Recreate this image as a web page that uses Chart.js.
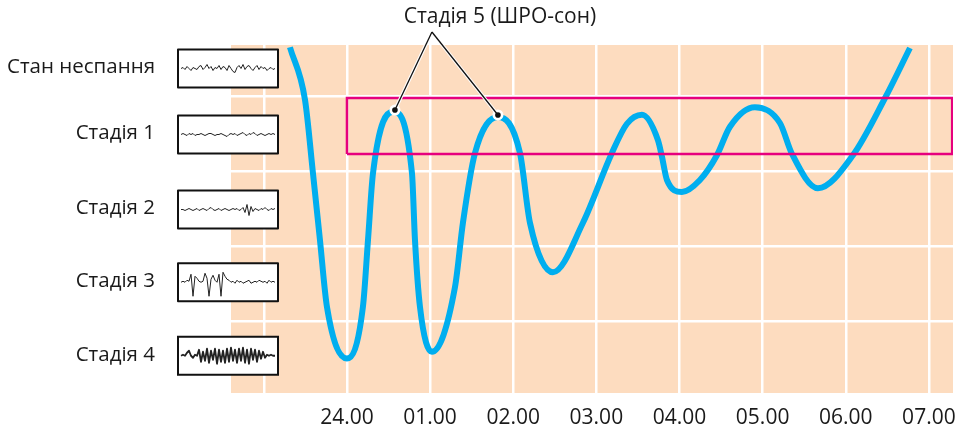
<!DOCTYPE html>
<html>
<head>
<meta charset="utf-8">
<script src="https://cdn.jsdelivr.net/npm/chart.js@4"></script>
<style>
  html, body { margin: 0; padding: 0; background: #fff; }
  #wrap { width: 958px; height: 430px; position: relative; }
</style>
</head>
<body>
<div id="wrap"><canvas id="sleep"></canvas></div>
<script>
// hours after midnight (24.00 = 0) and sleep depth (0 = stage 4 ... 3 = stage 1, ~3.9 = awake)
const hours = [-0.686, -0.505, -0.409, -0.325, -0.241, 0, 0.192, 0.253, 0.313, 0.553, 0.782, 0.818, 0.878, 1.022,
  1.299, 1.395, 1.54, 1.816, 2.081, 2.201, 2.478, 2.839, 3.187, 3.368, 3.548,
  3.741, 3.789, 3.849, 4.029, 4.246, 4.45, 4.607, 4.907, 5.208, 5.352, 5.665, 6.086, 6.471, 6.772];
const depth = [4.15, 3.45, 2.47, 1.58, 0.69, 0.0, 0.69, 1.58, 2.47, 3.29, 2.47, 1.58, 0.69, 0.09,
  0.95, 1.81, 2.74, 3.22, 2.74, 1.81, 1.15, 1.81, 2.74, 3.13, 3.25,
  2.91, 2.69, 2.38, 2.22, 2.38, 2.71, 3.09, 3.35, 3.14, 2.73, 2.27, 2.71, 3.47, 4.14];

// axis ticks
const xTickValues = [-1, 0, 1, 2, 3, 4, 5, 6, 7];
const xTickLabels = ['', '24.00', '01.00', '02.00', '03.00', '04.00', '05.00', '06.00', '07.00'];
const stageValues = [0.05, 1.03, 2.0, 3.0, 3.88];
const stageLabels = ['Стадія 4', 'Стадія 3', 'Стадія 2', 'Стадія 1', 'Стан неспання'];
const bandEdges = [0.5, 1.5, 2.5, 3.5];

// highlighted REM zone and callout
const remX = [0, 7.28];
const remY = [2.727, 3.473];
const remTitle = 'Стадія 5 (ШРО-сон)';
const remDotX = [0.577, 1.816];
const remDotY = [3.313, 3.247];
const calloutX = [1.022, 1.84];
const calloutY = [4.353, 4.553];

// little EEG traces, one per stage (same order as stageLabels)
const eegTraces = [
  [0,1,0,3,5,0,-2,1,0,6,-6,4,-5,7,-7,5,-4,7,-8,6,-6,5,-7,7,-6,8,-5,6,-7,7,-5,8,-7,6,-8,7,-4,6,-6,5,-3,4,-2,1,0,1,0,0],
  [0,1,0,2,1,8,-14,6,4,1,0,1,9,4,-14,3,7,2,0,8,-14,10,6,3,2,0,1,-1,2,0,1,-1,0,1,2,-1,0,1,0,2,1,0,1,-1,2,0,1,0],
  [0,0,-1,0,1,0,-1,0,1,-1,0,1,0,-1,1,2,0,-1,0,1,-1,0,1,0,-1,0,1,0,1,-1,0,2,-3,5,-6,3,-2,1,0,-1,1,0,2,0,-1,1,0,1],
  [0,1,0,-1,1,0,1,-1,0,0,1,0,-1,0,1,1,0,-1,0,0,1,0,-1,-2,0,1,0,1,-1,0,1,2,0,-1,1,0,2,1,-1,0,1,0,-1,0,1,0,1,0],
  [0,1,-1,2,0,-2,1,0,-1,2,3,-1,1,4,0,2,-2,1,0,3,-1,2,1,-2,3,0,-3,-4,1,3,0,4,-1,2,3,0,-2,1,3,-1,2,0,1,-2,0,1,-1,0]
];

const FONT = '"Open Sans", "Noto Sans", sans-serif';

const peachBg = {
  id: 'peachBg',
  beforeDraw(chart) {
    const a = chart.chartArea, ctx = chart.ctx;
    ctx.save();
    ctx.fillStyle = '#fddcbf';
    ctx.fillRect(a.left, a.top, a.right - a.left, a.bottom - a.top);
    ctx.restore();
  }
};

const callout = {
  id: 'callout',
  afterDatasetsDraw(chart) {
    const ctx = chart.ctx, xs = chart.scales.x, ys = chart.scales.y;
    const ax = xs.getPixelForValue(calloutX[0]), ay = ys.getPixelForValue(calloutY[0]);
    ctx.save();
    remDotX.forEach((v, i) => {
      const px = xs.getPixelForValue(v), py = ys.getPixelForValue(remDotY[i]);
      ctx.fillStyle = '#fff';
      ctx.beginPath(); ctx.arc(px, py, 5.5, 0, Math.PI * 2); ctx.fill();
      ctx.strokeStyle = '#fff'; ctx.lineWidth = 3.5;
      ctx.beginPath(); ctx.moveTo(ax, ay); ctx.lineTo(px, py); ctx.stroke();
    });
    remDotX.forEach((v, i) => {
      const px = xs.getPixelForValue(v), py = ys.getPixelForValue(remDotY[i]);
      ctx.strokeStyle = '#111'; ctx.lineWidth = 1.3;
      ctx.beginPath(); ctx.moveTo(ax, ay); ctx.lineTo(px, py); ctx.stroke();
      ctx.fillStyle = '#111';
      ctx.beginPath(); ctx.arc(px, py, 2.8, 0, Math.PI * 2); ctx.fill();
    });
    ctx.fillStyle = '#1a1a1a';
    ctx.font = '21px ' + FONT;
    ctx.textAlign = 'center';
    ctx.textBaseline = 'middle';
    ctx.fillText(remTitle, xs.getPixelForValue(calloutX[1]), ys.getPixelForValue(calloutY[1]));
    ctx.restore();
  }
};

const stagePanel = {
  id: 'stagePanel',
  afterDraw(chart) {
    const ctx = chart.ctx, ys = chart.scales.y;
    const left = 178, w = 100, h = 38, textRight = 155;
    ctx.save();
    stageValues.forEach((v, i) => {
      const ly = ys.getPixelForValue(v);
      ctx.fillStyle = '#1a1a1a';
      ctx.font = '20.5px ' + FONT;
      ctx.textAlign = 'right';
      ctx.textBaseline = 'middle';
      ctx.fillText(stageLabels[i], textRight, ly);

      const cy = ly + 1;
      ctx.fillStyle = '#fff';
      ctx.fillRect(left, cy - h / 2, w, h);
      ctx.strokeStyle = '#111'; ctx.lineWidth = 2;
      ctx.strokeRect(left, cy - h / 2, w, h);
      const tr = eegTraces[i];
      const step = (w - 6) / (tr.length - 1);
      ctx.strokeStyle = '#222';
      ctx.lineWidth = i === 0 ? 1.8 : 1;
      ctx.lineJoin = 'round';
      ctx.beginPath();
      tr.forEach((t, k) => {
        const px = left + 3 + k * step, py = cy - t;
        if (k === 0) ctx.moveTo(px, py); else ctx.lineTo(px, py);
      });
      ctx.stroke();
    });
    ctx.restore();
  }
};

new Chart(document.getElementById('sleep'), {
  type: 'line',
  data: {
    datasets: [
      {
        label: 'REM',
        data: [
          { x: remX[0], y: remY[0] }, { x: remX[1], y: remY[0] },
          { x: remX[1], y: remY[1] }, { x: remX[0], y: remY[1] }, { x: remX[0], y: remY[0] }
        ],
        borderColor: '#e6007e',
        borderWidth: 2.5,
        pointRadius: 0,
        tension: 0,
        fill: false
      },
      {
        label: 'Сон',
        data: hours.map((h, i) => ({ x: h, y: depth[i] })),
        borderColor: '#00aeef',
        borderWidth: 6,
        pointRadius: 0,
        cubicInterpolationMode: 'monotone',
        fill: false
      }
    ]
  },
  options: {
    responsive: true,
    maintainAspectRatio: false,
    animation: false,
    layout: { padding: { top: 45, right: 5, left: 0, bottom: 0 } },
    plugins: { legend: { display: false }, tooltip: { enabled: false } },
    scales: {
      x: {
        type: 'linear',
        min: -1.395,
        max: 7.29,
        afterBuildTicks: s => { s.ticks = xTickValues.map(v => ({ value: v })); },
        afterFit: s => { s.height = 37; },
        grid: { color: '#fff', lineWidth: 2.5, drawTicks: true, tickLength: 12, tickColor: 'rgba(0,0,0,0)' },
        border: { display: false },
        ticks: {
          autoSkip: false, maxRotation: 0, padding: 0,
          color: '#1a1a1a', font: { family: FONT, size: 21 },
          callback: (v, i) => xTickLabels[i]
        }
      },
      y: {
        type: 'linear',
        position: 'left',
        min: -0.46,
        max: 4.18,
        afterBuildTicks: s => { s.ticks = bandEdges.map(v => ({ value: v })); },
        afterFit: s => { s.width = 231; },
        grid: { color: '#fff', lineWidth: 2.5, drawTicks: false },
        border: { display: false },
        ticks: { display: false }
      }
    }
  },
  plugins: [peachBg, callout, stagePanel]
});
</script>
</body>
</html>
